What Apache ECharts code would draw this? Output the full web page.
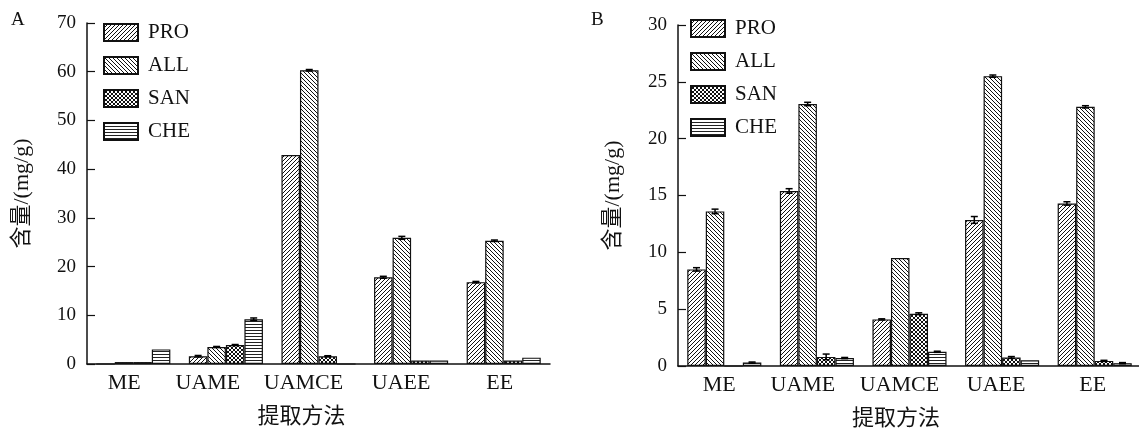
<!DOCTYPE html>
<html>
<head>
<meta charset="utf-8">
<script src="https://cdn.jsdelivr.net/npm/echarts@6/dist/echarts.min.js"></script>
<style>
  html, body { margin: 0; padding: 0; background: #fff; }
  #chart { width: 1139px; height: 430px; }
</style>
</head>
<body>
<div id="chart"></div>
<script>
const categories = ["ME", "UAME", "UAMCE", "UAEE", "EE"];
const seriesNames = ["PRO", "ALL", "SAN", "CHE"];

// 图 A
const proA = [0, 1.6, 42.9, 17.8, 16.8];
const allA = [0.4, 3.5, 60.3, 25.9, 25.3];
const sanA = [0.4, 3.9, 1.6, 0.7, 0.7];
const cheA = [3.0, 9.2, 0, 0.7, 1.3];
const proErrA = [0, 0.15, 0, 0.2, 0.15];
const allErrA = [0, 0.1, 0.15, 0.3, 0.15];
const sanErrA = [0, 0.1, 0.1, 0, 0];
const cheErrA = [0, 0.25, 0, 0, 0];

// 图 B
const proB = [8.5, 15.4, 4.1, 12.85, 14.3];
const allB = [13.6, 23.05, 9.5, 25.5, 22.8];
const sanB = [0, 0.8, 4.6, 0.75, 0.45];
const cheB = [0.3, 0.7, 1.25, 0.5, 0.25];
const proErrB = [0.15, 0.2, 0.05, 0.3, 0.15];
const allErrB = [0.2, 0.15, 0, 0.1, 0.1];
const sanErrB = [0, 0.25, 0.08, 0.08, 0.05];
const cheErrB = [0.05, 0.05, 0.05, 0, 0.05];

const FONT = '"Liberation Serif", "Times New Roman", "Noto Sans CJK SC", serif';

// 填充图案
function makePattern(kind) {
  const s = kind === "che" ? 3 : 4;
  const c = document.createElement("canvas");
  c.width = s;
  c.height = s;
  const ctx = c.getContext("2d");
  ctx.fillStyle = "#fff";
  ctx.fillRect(0, 0, s, s);
  ctx.strokeStyle = "#111";
  ctx.fillStyle = "#222";
  ctx.lineWidth = 1;
  const fwd = () => {
    ctx.beginPath();
    ctx.moveTo(0, s); ctx.lineTo(s, 0);
    ctx.moveTo(-1, 1); ctx.lineTo(1, -1);
    ctx.moveTo(s - 1, s + 1); ctx.lineTo(s + 1, s - 1);
    ctx.stroke();
  };
  const back = () => {
    ctx.beginPath();
    ctx.moveTo(0, 0); ctx.lineTo(s, s);
    ctx.moveTo(s - 1, -1); ctx.lineTo(s + 1, 1);
    ctx.moveTo(-1, s - 1); ctx.lineTo(1, s + 1);
    ctx.stroke();
  };
  if (kind === "pro") fwd();
  if (kind === "all") back();
  if (kind === "san") { fwd(); back(); }
  if (kind === "che") ctx.fillRect(0, 0, s, 1);
  return { image: c, repeat: "repeat" };
}

const patterns = [makePattern("pro"), makePattern("all"), makePattern("san"), makePattern("che")];

function barSeries(name, idx, data, axis) {
  return {
    name: name,
    type: "bar",
    xAxisIndex: axis,
    yAxisIndex: axis,
    data: data,
    barGap: "0%",
    barCategoryGap: "20%",
    itemStyle: { color: patterns[idx], borderColor: "#111", borderWidth: 1.2 },
  };
}

function errSeries(idx, values, errs, axis) {
  const data = [];
  values.forEach((v, i) => {
    if (errs[i] > 0) data.push([i, v - errs[i], v + errs[i]]);
  });
  return {
    name: "err",
    type: "custom",
    xAxisIndex: axis,
    yAxisIndex: axis,
    z: 5,
    data: data,
    encode: { x: 0, y: [1, 2] },
    renderItem: (params, api) => {
      const cat = api.value(0);
      const band = api.size([1, 0])[0];
      const bw = (band * 0.8) / 4;
      const cx = api.coord([cat, 0])[0] + (idx - 1.5) * bw;
      const top = api.coord([cat, api.value(2)])[1];
      const bot = api.coord([cat, api.value(1)])[1];
      const cap = 3.5;
      const style = { stroke: "#000", lineWidth: 1.5 };
      return {
        type: "group",
        children: [
          { type: "line", shape: { x1: cx, y1: top, x2: cx, y2: bot }, style: style },
          { type: "line", shape: { x1: cx - cap, y1: top, x2: cx + cap, y2: top }, style: style },
          { type: "line", shape: { x1: cx - cap, y1: bot, x2: cx + cap, y2: bot }, style: style },
        ],
      };
    },
  };
}

// 类目标签位置微调（原图标签略偏左）
const shiftA = [18, 36, 30, 20, 8];
const shiftB = [10, 28, 20, 12, 4];
function richFor(shift) {
  const rich = {};
  shift.forEach((s, i) => {
    rich["c" + i] = { fontFamily: FONT, fontSize: 22, color: "#111", padding: [0, s, 0, 0] };
  });
  return rich;
}

function xAxis(index, shift, namePad) {
  return {
    type: "category",
    gridIndex: index,
    data: categories,
    name: "提取方法",
    nameLocation: "middle",
    nameGap: 42,
    nameTextStyle: { fontFamily: FONT, fontSize: 22, color: "#111", padding: [0, namePad, 0, 0] },
    axisLine: { lineStyle: { color: "#111", width: 1.5 } },
    axisTick: { show: false },
    axisLabel: {
      margin: 8,
      formatter: (v, i) => "{c" + i + "|" + v + "}",
      rich: richFor(shift),
    },
    splitLine: { show: false },
  };
}

function yAxis(index, max, interval) {
  return {
    type: "value",
    gridIndex: index,
    min: 0,
    max: max,
    interval: interval,
    name: "含量/(mg/g)",
    nameLocation: "middle",
    nameGap: 54,
    nameRotate: 90,
    nameTextStyle: { fontFamily: FONT, fontSize: 22, color: "#111" },
    axisLine: { show: true, lineStyle: { color: "#111", width: 1.5 } },
    axisTick: { show: true, inside: true, length: 8, lineStyle: { color: "#111", width: 1.2 } },
    axisLabel: { fontFamily: FONT, fontSize: 19, color: "#111", margin: 11 },
    splitLine: { show: false },
  };
}

function legend(left, top) {
  return {
    orient: "vertical",
    left: left,
    top: top,
    padding: 0,
    icon: "rect",
    itemWidth: 34,
    itemHeight: 17,
    itemGap: 12,
    selectedMode: false,
    data: seriesNames,
    textStyle: { fontFamily: FONT, fontSize: 21, color: "#111", lineHeight: 17, padding: [0, 0, 0, 5] },
  };
}

const chart = echarts.init(document.getElementById("chart"));

chart.setOption({
  animation: false,
  backgroundColor: "#fff",
  title: [
    { text: "A", left: 6, top: 6, textStyle: { fontFamily: FONT, fontSize: 19, fontWeight: "normal", color: "#111" } },
    { text: "B", left: 586, top: 6, textStyle: { fontFamily: FONT, fontSize: 19, fontWeight: "normal", color: "#111" } },
  ],
  legend: [legend(103, 22), legend(690, 18)],
  grid: [
    { left: 87, top: 23, width: 463, height: 341, outerBoundsMode: "none" },
    { left: 678, top: 25, width: 463, height: 341, outerBoundsMode: "none" },
  ],
  xAxis: [xAxis(0, shiftA, 34), xAxis(1, shiftB, 27)],
  yAxis: [yAxis(0, 70, 10), yAxis(1, 30, 5)],
  series: [
    barSeries("PRO", 0, proA, 0),
    barSeries("ALL", 1, allA, 0),
    barSeries("SAN", 2, sanA, 0),
    barSeries("CHE", 3, cheA, 0),
    barSeries("PRO", 0, proB, 1),
    barSeries("ALL", 1, allB, 1),
    barSeries("SAN", 2, sanB, 1),
    barSeries("CHE", 3, cheB, 1),
    errSeries(0, proA, proErrA, 0),
    errSeries(1, allA, allErrA, 0),
    errSeries(2, sanA, sanErrA, 0),
    errSeries(3, cheA, cheErrA, 0),
    errSeries(0, proB, proErrB, 1),
    errSeries(1, allB, allErrB, 1),
    errSeries(2, sanB, sanErrB, 1),
    errSeries(3, cheB, cheErrB, 1),
  ],
});
</script>
</body>
</html>
